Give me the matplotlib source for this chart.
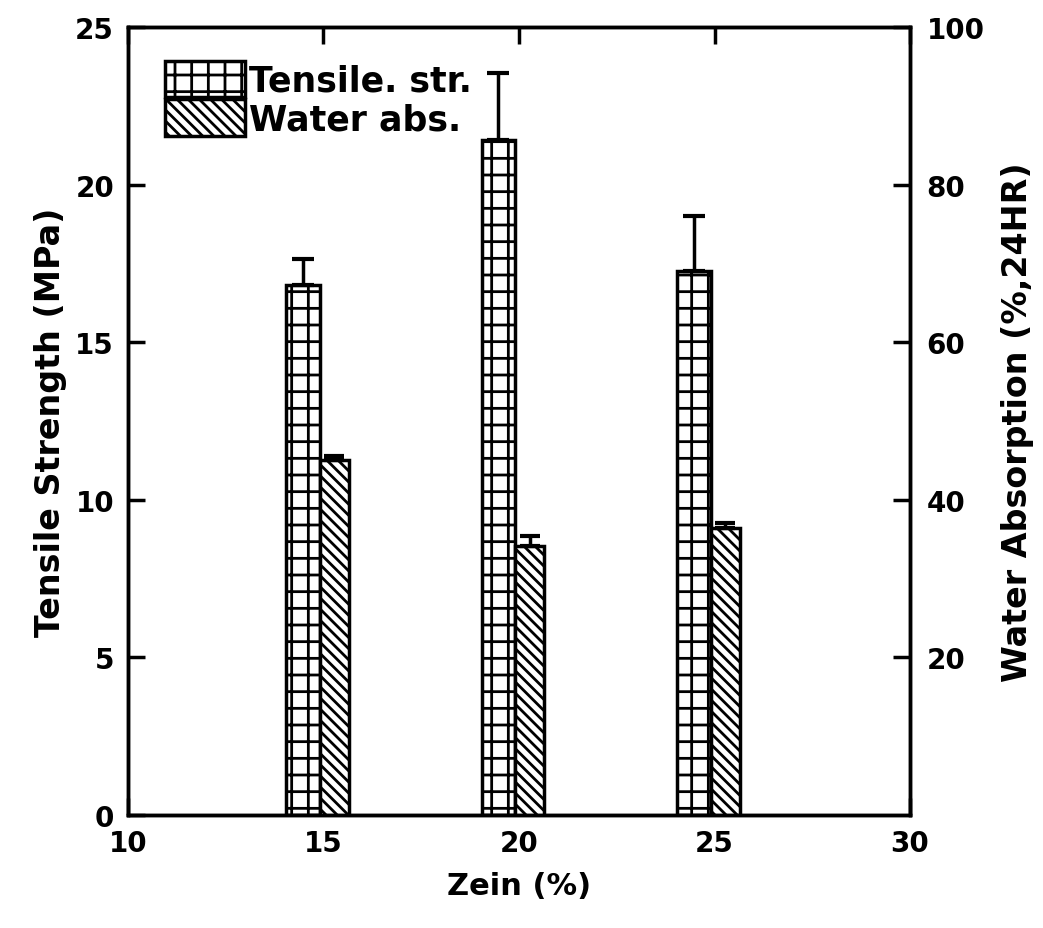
import numpy as np
import matplotlib
matplotlib.use('Agg')
import matplotlib.pyplot as plt

zein = [15, 20, 25]
tensile = [16.8, 21.4, 17.25]
tensile_err = [0.85, 2.15, 1.75]
water = [45.0, 34.1, 36.4]
water_err = [0.5, 1.3, 0.6]

plt.rcParams['font.family'] = 'DejaVu Sans'
plt.rcParams['font.weight'] = 'bold'
plt.rcParams['hatch.linewidth'] = 2.0
plt.rcParams['axes.linewidth'] = 2.5

fig = plt.figure(figsize=(10.43, 9.29), dpi=100)
ax = fig.add_axes([0.1227, 0.1216, 0.8725 - 0.1227, 0.9699 - 0.1216])
ax2 = ax.twinx()

x = np.array(zein, dtype=float)
w1 = 0.85
w2 = 0.75
b1 = ax.bar(x - 0.1 - w1 / 2, tensile, width=w1, color='white', edgecolor='black',
            hatch='+', linewidth=2.5, label='Tensile. str.', zorder=2)
ax.errorbar(x - 0.1 - w1 / 2, tensile, yerr=[np.zeros(3), tensile_err], fmt='none',
            ecolor='black', elinewidth=2.5, capsize=8, capthick=3, zorder=3)
b2 = ax2.bar(x - 0.1 + w2 / 2, water, width=w2, color='white', edgecolor='black',
             hatch='\\\\\\', linewidth=2.5, label='Water abs.', zorder=2)
ax2.errorbar(x - 0.1 + w2 / 2, water, yerr=[np.zeros(3), water_err], fmt='none',
             ecolor='black', elinewidth=2.5, capsize=7, capthick=3, zorder=3)

ax.set_xlim(10, 30)
ax.set_ylim(0, 25)
ax2.set_ylim(0, 100)
ax.set_xticks([10, 15, 20, 25, 30])
ax.set_yticks([0, 5, 10, 15, 20, 25])
ax2.set_yticks([20, 40, 60, 80, 100])

ax.tick_params(axis='both', direction='in', length=12, width=2.5, labelsize=20, pad=10)
ax.tick_params(axis='x', top=True)
ax2.tick_params(axis='y', direction='in', length=12, width=2.5, labelsize=20, pad=12)

ax.set_xlabel('Zein (%)', fontsize=22, fontweight='bold', labelpad=10)
ax.set_ylabel('Tensile Strength (MPa)', fontsize=24, fontweight='bold', labelpad=6)
ax2.set_ylabel('Water Absorption (%,24HR)', fontsize=24, fontweight='bold', labelpad=12)

ax2.legend([b1, b2], ['Tensile. str.', 'Water abs.'], loc='upper left',
           bbox_to_anchor=(0.03, 0.975), frameon=False, fontsize=25,
           handlelength=2.3, handleheight=1.25, handletextpad=0.1,
           labelspacing=0.05, borderaxespad=0.0)

fig.savefig('out.png', dpi=100)
